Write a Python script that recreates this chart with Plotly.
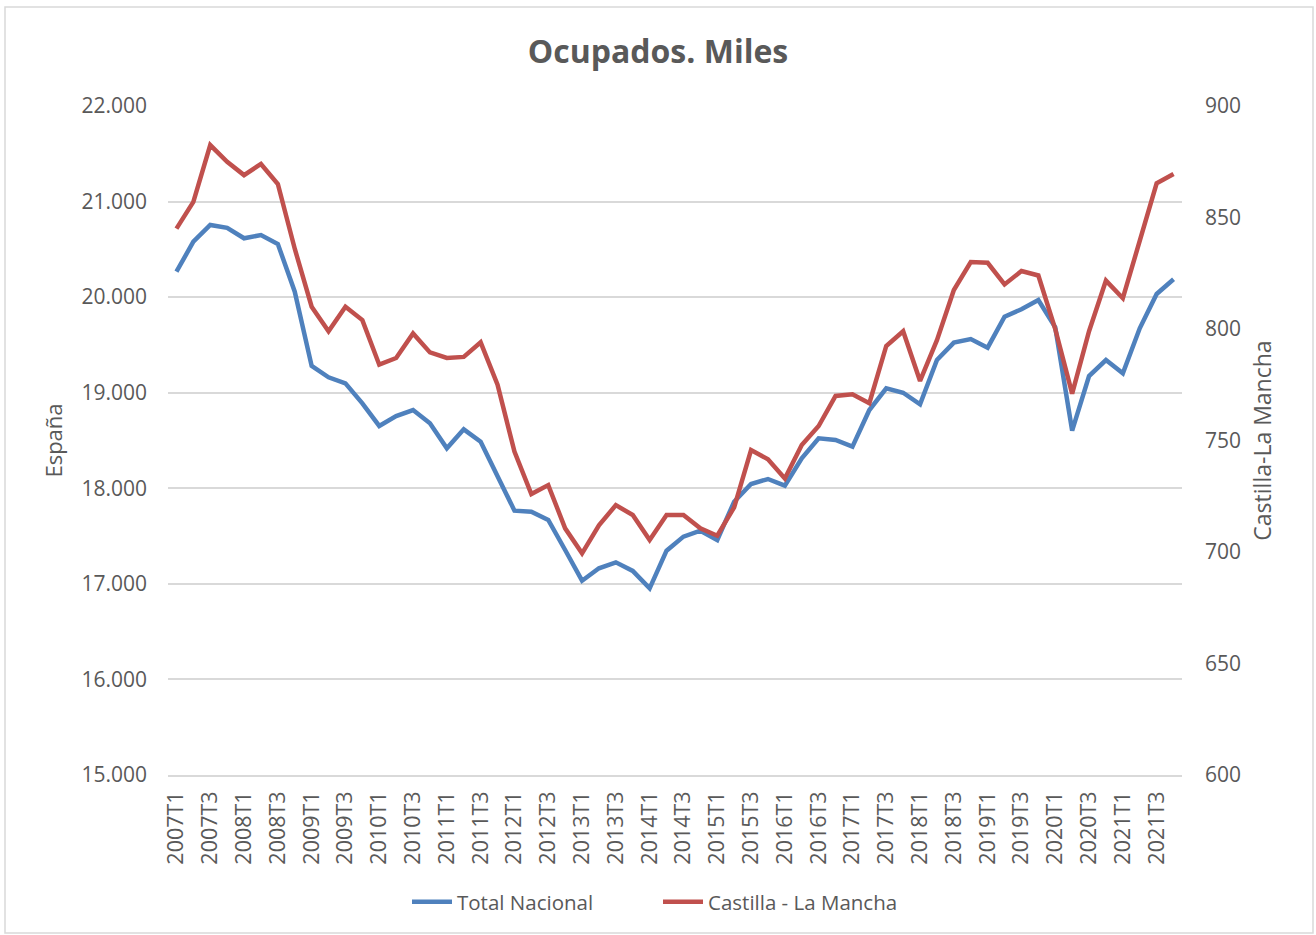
import plotly.graph_objects as go

quarters = [f"{y}T{q}" for y in range(2007, 2022) for q in range(1, 5)]

espana = [20266, 20580, 20755, 20725, 20616, 20650, 20556, 20057, 19280, 19161,
          19098, 18889, 18652, 18756, 18819, 18680, 18418, 18617, 18488, 18139,
          17766, 17755, 17668, 17354, 17033, 17163, 17225, 17135, 16953, 17347,
          17494, 17556, 17459, 17860, 18045, 18097, 18027, 18313, 18523, 18505,
          18435, 18819, 19046, 19000, 18878, 19342, 19524, 19562, 19471, 19796,
          19873, 19970, 19684, 18603, 19175, 19342, 19203, 19674, 20033, 20187]

clm = [845, 857, 882.5, 875, 869, 874, 865, 836, 810, 799,
       810, 804, 784, 787, 798, 789.5, 787, 787.5, 794, 775,
       745, 726, 730, 710.6, 699.4, 712, 721, 716.6, 705.4, 716.6,
       716.6, 710.6, 707.3, 720, 745.7, 741.6, 733, 748, 756.5, 770,
       770.7, 766.7, 792.4, 799, 776.7, 795, 817.5, 830, 829.7, 820,
       826, 824, 800, 771, 799, 821.7, 813.8, 839.5, 865.3, 869.5]

tick_labels = quarters[::2]

TXT = "#595959"
FONT = "Open Sans"

fig = go.Figure()
fig.add_trace(go.Scatter(x=quarters, y=espana, mode="lines", name="Total Nacional",
                         line=dict(color="#4F81BD", width=4.5)))
fig.add_trace(go.Scatter(x=quarters, y=clm, mode="lines", name="Castilla - La Mancha",
                         line=dict(color="#C0504D", width=4.5), yaxis="y2"))

L, R, T, B = 168, 134, 106, 160
W, H = 1316, 935
pw, ph = W - L - R, H - T - B

fig.update_layout(
    width=W, height=H,
    margin=dict(l=L, r=R, t=T, b=B),
    paper_bgcolor="white", plot_bgcolor="white",
    separators=",.",
    font=dict(family=FONT, color=TXT, size=20),
    title=dict(text="<b>Ocupados. Miles</b>", x=0.5, xref="container", xanchor="center",
               y=1 - 52 / H, yref="container", yanchor="middle",
               font=dict(size=32, color=TXT, family=FONT)),
    xaxis=dict(type="category", categoryorder="array", categoryarray=quarters,
               range=[-0.5, len(quarters) - 0.5],
               tickmode="array", tickvals=tick_labels, ticktext=tick_labels,
               tickangle=-90, showgrid=False, showline=True, linecolor="#D9D9D9",
               linewidth=1.5, ticks="", ticklabelstandoff=6,
               tickfont=dict(size=21.5, color=TXT)),
    yaxis=dict(range=[15000, 22000], dtick=1000, tickformat=",",
               showgrid=True, gridcolor="#D9D9D9", gridwidth=1.5, zeroline=False,
               ticks="", ticklabelstandoff=20,
               title=dict(text="España", standoff=12, font=dict(size=22, color=TXT)),
               tickfont=dict(size=21, color=TXT)),
    yaxis2=dict(range=[600, 900], dtick=50, overlaying="y", side="right",
                showgrid=False, zeroline=False, ticks="", ticklabelstandoff=22,
                title=dict(text="Castilla-La Mancha", standoff=14, font=dict(size=23, color=TXT)),
                tickfont=dict(size=21, color=TXT)),
    legend=dict(orientation="h", x=0.5, xref="container", xanchor="center",
                y=1 - 902 / H, yref="container", yanchor="middle",
                font=dict(size=20.5, color=TXT), itemwidth=40,
                entrywidth=196, entrywidthmode="pixels"),
    showlegend=True,
)

fig.add_shape(type="rect", xref="paper", yref="paper",
              x0=(5 - L) / pw, x1=(1313 - L) / pw,
              y0=(H - B - 933) / ph, y1=(H - B - 7) / ph,
              line=dict(color="#D9D9D9", width=1.5), fillcolor="rgba(0,0,0,0)", layer="below")

fig.write_html("out.html", config={"displayModeBar": False},
               post_script="document.body.style.margin='0';document.body.style.overflow='hidden';")
